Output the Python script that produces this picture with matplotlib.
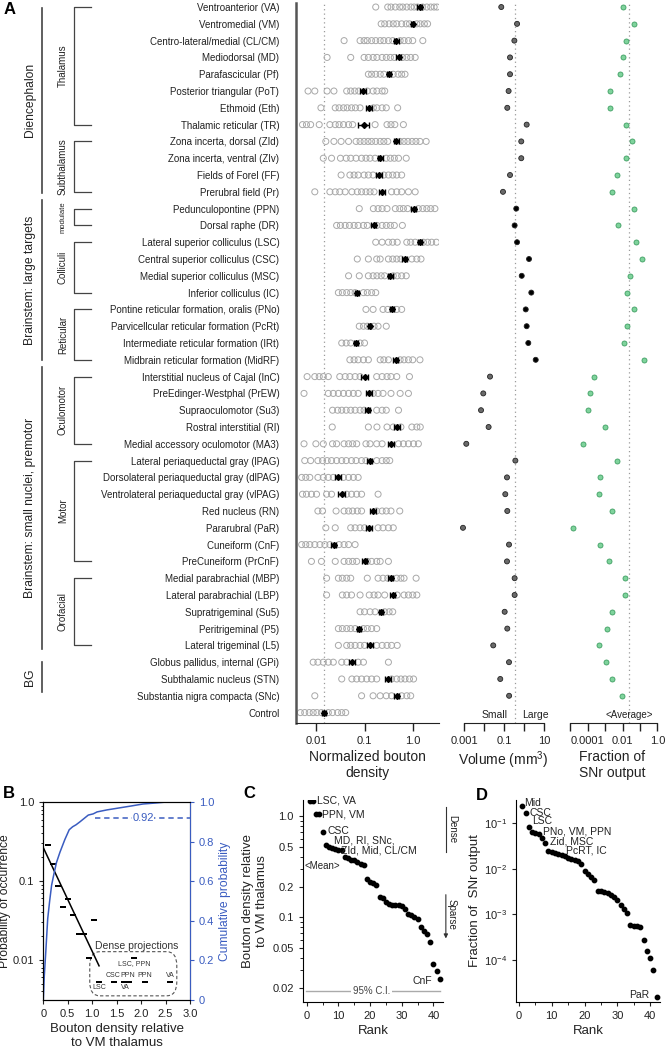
import numpy as np
import matplotlib
matplotlib.use("Agg")
import matplotlib.pyplot as plt
import matplotlib.transforms as mtransforms
from matplotlib.lines import Line2D
from matplotlib.patches import FancyBboxPatch
from matplotlib.ticker import NullLocator, FixedLocator

plt.rcParams['font.family'] = ['Liberation Sans', 'DejaVu Sans']
plt.rcParams['mathtext.default'] = 'regular'

# ---------------- data: panel A ----------------
regions = [
    'Ventroanterior (VA)', 'Ventromedial (VM)', 'Centro-lateral/medial (CL/CM)',
    'Mediodorsal (MD)', 'Parafascicular (Pf)', 'Posterior triangular (PoT)',
    'Ethmoid (Eth)', 'Thalamic reticular (TR)', 'Zona incerta, dorsal (ZId)',
    'Zona incerta, ventral (ZIv)', 'Fields of Forel (FF)', 'Prerubral field (Pr)',
    'Pedunculopontine (PPN)', 'Dorsal raphe (DR)', 'Lateral superior colliculus (LSC)',
    'Central superior colliculus (CSC)', 'Medial superior colliculus (MSC)',
    'Inferior colliculus (IC)', 'Pontine reticular formation, oralis (PNo)',
    'Parvicellcular reticular formation (PcRt)', 'Intermediate reticular formation (IRt)',
    'Midbrain reticular formation (MidRF)', 'Interstitial nucleus of Cajal (InC)',
    'PreEdinger-Westphal (PrEW)', 'Supraoculomotor (Su3)', 'Rostral interstitial (RI)',
    'Medial accessory oculomotor (MA3)', 'Lateral periaqueductal gray (lPAG)',
    'Dorsolateral periaqueductal gray (dlPAG)', 'Ventrolateral periaqueductal gray (vlPAG)',
    'Red nucleus (RN)', 'Pararubral (PaR)', 'Cuneiform (CnF)', 'PreCuneiform (PrCnF)',
    'Medial parabrachial (MBP)', 'Lateral parabrachial (LBP)', 'Supratrigeminal (Su5)',
    'Peritrigeminal (P5)', 'Lateral trigeminal (L5)', 'Globus pallidus, internal (GPi)',
    'Subthalamic nucleus (STN)', 'Substantia nigra compacta (SNc)', 'Control',
]

dens_pts = [
    [0.17, 0.30, 0.35, 0.43, 0.53, 0.61, 0.74, 0.90, 1.05, 1.23, 1.57, 1.91, 2.3, 2.7, 3.1],
    [0.22, 0.26, 0.32, 0.39, 0.46, 0.58, 0.72, 0.84, 1.19, 1.40, 1.7, 1.98],
    [0.038, 0.081, 0.098, 0.114, 0.14, 0.17, 0.21, 0.25, 0.31, 0.38, 0.54, 0.65, 0.80, 0.98, 1.58],
    [0.017, 0.052, 0.098, 0.12, 0.15, 0.18, 0.23, 0.28, 0.34, 0.41, 0.61, 0.74, 0.89, 1.10],
    [0.12, 0.14, 0.17, 0.21, 0.25, 0.39, 0.49, 0.58, 0.68],
    [0.0069, 0.0095, 0.017, 0.0235, 0.043, 0.052, 0.063, 0.076, 0.114, 0.15, 0.18, 0.23, 0.26],
    [0.0127, 0.025, 0.030, 0.037, 0.044, 0.054, 0.065, 0.081, 0.152, 0.18, 0.23, 0.28, 0.48],
    [0.0053, 0.0064, 0.0078, 0.0117, 0.0194, 0.025, 0.030, 0.037, 0.047, 0.057, 0.165, 0.29, 0.35, 0.42, 0.63],
    [0.016, 0.0235, 0.033, 0.047, 0.067, 0.081, 0.098, 0.118, 0.14, 0.17, 0.21, 0.25, 0.30, 0.54,
     0.65, 0.78, 0.95, 1.14, 1.38, 1.85],
    [0.0142, 0.021, 0.032, 0.042, 0.052, 0.067, 0.087, 0.107, 0.13, 0.165, 0.28, 0.34, 0.41, 0.50, 0.72],
    [0.033, 0.050, 0.061, 0.074, 0.098, 0.12, 0.15, 0.25, 0.31, 0.38, 0.46, 0.58],
    [0.0095, 0.0194, 0.025, 0.031, 0.040, 0.055, 0.071, 0.087, 0.107, 0.13, 0.157, 0.36, 0.46, 0.58, 0.80, 1.10],
    [0.078, 0.152, 0.19, 0.23, 0.29, 0.43, 0.53, 0.63, 0.77, 1.28, 1.58, 1.91, 2.3, 2.8],
    [0.0267, 0.032, 0.040, 0.049, 0.061, 0.074, 0.095, 0.114, 0.18, 0.23, 0.28, 0.34, 0.41, 0.60],
    [0.17, 0.23, 0.31, 0.38, 0.47, 0.74, 0.89, 1.10, 1.63, 1.98, 2.4, 3.0],
    [0.071, 0.12, 0.178, 0.21, 0.31, 0.38, 0.46, 0.56, 0.94, 1.19, 1.45],
    [0.047, 0.078, 0.12, 0.15, 0.18, 0.22, 0.26, 0.39, 0.47, 0.58, 0.72],
    [0.029, 0.035, 0.043, 0.052, 0.064, 0.095, 0.114, 0.14, 0.17],
    [0.107, 0.15, 0.24, 0.30, 0.46, 0.58],
    [0.078, 0.095, 0.114, 0.157, 0.19, 0.28],
    [0.034, 0.042, 0.052, 0.081, 0.10],
    [0.050, 0.061, 0.074, 0.095, 0.12, 0.21, 0.25, 0.31, 0.54, 0.65, 0.80, 0.98, 1.38],
    [0.0066, 0.0095, 0.0117, 0.0142, 0.018, 0.031, 0.040, 0.050, 0.064, 0.081, 0.178, 0.23, 0.29,
     0.35, 0.46, 0.84],
    [0.0057, 0.018, 0.0228, 0.029, 0.037, 0.047, 0.059, 0.074, 0.152, 0.19, 0.24, 0.35, 0.54, 0.80],
    [0.022, 0.028, 0.034, 0.042, 0.052, 0.064, 0.081, 0.098, 0.178, 0.23, 0.28, 0.50],
    [0.0217, 0.12, 0.18, 0.29, 0.39, 0.56, 0.94, 1.19, 1.40],
    [0.0057, 0.010, 0.0142, 0.022, 0.0267, 0.038, 0.047, 0.057, 0.069, 0.107, 0.13, 0.178, 0.23,
     0.50, 0.63, 0.80, 1.02, 1.28],
    [0.0059, 0.0078, 0.011, 0.0137, 0.017, 0.021, 0.0267, 0.034, 0.042, 0.054, 0.067, 0.087, 0.107,
     0.178, 0.23, 0.28, 0.33],
    [0.0051, 0.0062, 0.0075, 0.011, 0.0142, 0.018, 0.0228, 0.037, 0.047, 0.059, 0.074],
    [0.0053, 0.0064, 0.0081, 0.0103, 0.0166, 0.021, 0.043, 0.054, 0.069, 0.087, 0.19],
    [0.011, 0.0137, 0.026, 0.038, 0.047, 0.057, 0.071, 0.087, 0.178, 0.23, 0.28, 0.35, 0.53],
    [0.016, 0.025, 0.052, 0.064, 0.081, 0.10, 0.19, 0.24, 0.31, 0.39],
    [0.0051, 0.0062, 0.0075, 0.0095, 0.0121, 0.0153, 0.0194, 0.030, 0.038, 0.047, 0.064],
    [0.0081, 0.013, 0.025, 0.038, 0.047, 0.057, 0.069, 0.114, 0.14, 0.178, 0.21, 0.31],
    [0.0166, 0.029, 0.035, 0.043, 0.052, 0.114, 0.19, 0.24, 0.30, 0.46, 0.56, 0.65, 1.15],
    [0.0166, 0.035, 0.043, 0.054, 0.081, 0.125, 0.157, 0.19, 0.26, 0.47, 0.65, 0.80, 0.98, 1.19],
    [0.081, 0.10, 0.13, 0.165, 0.26, 0.32, 0.38],
    [0.029, 0.035, 0.043, 0.052, 0.064, 0.095, 0.114, 0.14, 0.178],
    [0.029, 0.043, 0.052, 0.064, 0.081, 0.10, 0.178, 0.23, 0.29, 0.36, 0.47],
    [0.0088, 0.011, 0.0142, 0.018, 0.0228, 0.034, 0.043, 0.074, 0.095, 0.31],
    [0.034, 0.055, 0.069, 0.087, 0.111, 0.14, 0.178, 0.36, 0.46, 0.56, 0.68, 0.84, 1.02],
    [0.0095, 0.087, 0.15, 0.21, 0.28, 0.36, 0.58, 0.74, 0.89],
    [0.0048, 0.0059, 0.0073, 0.0088, 0.0105, 0.013, 0.018, 0.022, 0.028, 0.034, 0.041],
]

dens_mean = [1.37, 0.99, 0.45, 0.50, 0.32, 0.093, 0.124, 0.099, 0.45, 0.21, 0.20, 0.23,
             1.02, 0.155, 1.37, 0.67, 0.34, 0.071, 0.37, 0.128, 0.067, 0.44,
             0.102, 0.125, 0.116, 0.47, 0.35, 0.13, 0.029, 0.034, 0.15, 0.124, 0.0235, 0.10,
             0.35, 0.38, 0.22, 0.077, 0.13, 0.055, 0.31, 0.46, 0.0149]
dens_sem = [0.15, 0.07, 0.05, 0.06, 0.03, 0.012, 0.016, 0.025, 0.05, 0.025, 0.025, 0.03,
            0.10, 0.017, 0.14, 0.07, 0.04, 0.007, 0.03, 0.01, 0.006, 0.05,
            0.017, 0.02, 0.014, 0.06, 0.05, 0.015, 0.004, 0.006, 0.02, 0.017, 0.003, 0.012,
            0.04, 0.045, 0.02, 0.008, 0.017, 0.008, 0.04, 0.05, 0.0015]

volume = [0.073, 0.45, 0.33, 0.20, 0.20, 0.17, 0.146, 1.36, 0.73, 0.73, 0.20, 0.089,
          0.41, 0.34, 0.45, 1.78, 0.77, 2.32, 1.22, 1.36, 1.64, 3.85,
          0.020, 0.0092, 0.0071, 0.017, 0.0013, 0.37, 0.141, 0.116, 0.146, 0.00089, 0.178,
          0.141, 0.34, 0.34, 0.108, 0.146, 0.029, 0.178, 0.065, 0.18]
vol_split = 0.35

snr_fraction = [0.0107, 0.047, 0.0158, 0.0111, 0.0075, 0.00186, 0.00201, 0.0152, 0.0349,
                0.0165, 0.00467, 0.00242, 0.0454, 0.00575, 0.0615, 0.125, 0.0279, 0.0174,
                0.047, 0.0188, 0.0122, 0.176, 0.000245, 0.000145, 0.000103, 0.00096, 5.5e-5,
                0.00505, 0.000498, 0.000474, 0.0025, 1.48e-5, 0.000498, 0.0017, 0.0139,
                0.0143, 0.0025, 0.00135, 0.000474, 0.00114, 0.00242, 0.0094]
snr_average = 1 / 42

groups = ['Diencephalon', 'Brainstem: large targets', 'Brainstem: small nuclei, premotor', 'BG']
group_top = [0.05, 11.5, 21.4, 39.0]
group_bot = [11.05, 21.0, 38.2, 40.8]
large_rows = range(12, 22)

subgroups = ['Thalamus', 'Subthalamus', 'modulate', 'Colliculi', 'Reticular',
             'Oculomotor', 'Motor', 'Orofacial']
sub_first = [0, 8, 12, 14, 18, 22, 27, 34]
sub_last = [7, 11, 13, 17, 21, 26, 33, 38]

# ---------------- data: panel B ----------------
hist_x = [0.10, 0.19, 0.31, 0.40, 0.51, 0.61, 0.72, 0.83, 0.93, 1.04, 1.14, 1.45, 1.65, 1.76,
          1.86, 2.08, 2.59]
hist_p = [0.286, 0.166, 0.085, 0.047, 0.059, 0.0375, 0.021, 0.021, 0.0107, 0.032, 0.0053,
          0.0053, 0.0053, 0.0053, 0.0107, 0.0053, 0.0053]
fit_x = [0.0, 1.14]
fit_p = [0.264, 0.0084]
cum_x = [0, 0.02, 0.05, 0.09, 0.13, 0.17, 0.22, 0.27, 0.34, 0.44, 0.53, 0.60, 0.67, 0.75, 0.85,
         0.92, 1.02, 1.1, 1.3, 1.5, 1.8, 2.04, 2.3, 2.52, 3.0]
cum_y = [0, 0.12, 0.24, 0.41, 0.50, 0.58, 0.64, 0.695, 0.746, 0.81, 0.86, 0.875, 0.885, 0.90,
         0.92, 0.934, 0.94, 0.95, 0.96, 0.968, 0.98, 0.99, 0.995, 1.0, 1.0]
dense_labels = ['LSC', 'CSC', 'PPN', 'VA', 'PPN', 'VA', 'LSC, PPN']
dense_lab_x = [1.14, 1.43, 1.72, 1.67, 2.08, 2.59, 1.87]
dense_lab_y = [0.0044, 0.0064, 0.0064, 0.0044, 0.0064, 0.0064, 0.0090]

# ---------------- data: panel C ----------------
c_rank = np.arange(1, 43)
c_density = [1.42, 1.42, 1.05, 1.05, 0.70, 0.524, 0.50, 0.485, 0.474, 0.467, 0.463,
             0.398, 0.385, 0.374, 0.368, 0.357, 0.341, 0.328, 0.242, 0.226, 0.220, 0.210,
             0.158, 0.156, 0.141, 0.136, 0.134, 0.134, 0.132, 0.129, 0.122, 0.108, 0.106,
             0.102, 0.097, 0.080, 0.074, 0.069, 0.057, 0.035, 0.0296, 0.0245]
c_ci = 0.0188

# ---------------- data: panel D ----------------
d_rank = np.arange(1, 43)
d_fraction = [0.24, 0.163, 0.083, 0.063, 0.062, 0.057, 0.046, 0.036, 0.0247, 0.0232, 0.0217,
              0.0207, 0.0196, 0.0187, 0.0174, 0.0163, 0.0155, 0.0145, 0.0125, 0.0090, 0.0075,
              0.0065, 0.0057, 0.00325, 0.0032, 0.0031, 0.0029, 0.0026, 0.0024, 0.0021, 0.0016,
              0.00132, 0.00107, 0.00058, 0.00057, 0.00056, 0.00054, 0.00028, 0.000158,
              0.000113, 6.1e-5, 1.56e-5]

W, H = 665, 1050
fig = plt.figure(figsize=(W / 100, H / 100), dpi=100)


def px_axes(x0, y0, x1, y1):
    return fig.add_axes([x0 / W, 1 - y1 / H, (x1 - x0) / W, (y1 - y0) / H])


dot_ls = (0, (1, 2.5))
grey_dot = '#9a9a9a'
ink = '#222222'
rows = np.arange(len(regions))
n_reg = len(volume)
ylim_rows = (42.62, -0.24)

# ---- A: density ----
ax = px_axes(296, 3, 439, 723)
for i, pts in enumerate(dens_pts):
    ax.scatter(pts, np.full(len(pts), i), s=19, facecolors='none', edgecolors='#a8a8a8',
               linewidths=0.7, zorder=2)
ax.errorbar(dens_mean, rows, xerr=dens_sem, fmt='D', color='k', ms=3, capsize=2.2,
            elinewidth=1.0, capthick=1.0, zorder=4)
ax.axvline(dens_mean[-1], color=grey_dot, ls=dot_ls, lw=0.9, zorder=1)
ax.set_xscale('log')
ax.set_xlim(0.0039, 3.4)
ax.set_ylim(*ylim_rows)
ax.set_yticks(rows)
ax.set_yticklabels(regions, fontsize=7, color=ink)
ax.tick_params(axis='y', length=0, pad=12)
ax.xaxis.set_major_locator(FixedLocator([0.01, 0.1, 1.0]))
ax.xaxis.set_minor_locator(NullLocator())
ax.set_xticklabels(['0.01', '0.1', '1.0'])
ax.tick_params(axis='x', length=6, width=1, labelsize=8, colors=ink, pad=3)
for s in ['top', 'right']:
    ax.spines[s].set_visible(False)
ax.spines['left'].set_linewidth(1.8)
ax.spines['left'].set_color('#555555')
ax.spines['bottom'].set_color(ink)
ax.set_xlabel('Normalized bouton\ndensity', fontsize=10, color=ink, labelpad=3)
fig.text(4 / W, 1 - 2 / H, 'A', fontsize=12, fontweight='bold', va='top', ha='left')

# group / subgroup brackets on the left
trans = mtransforms.blended_transform_factory(fig.transFigure, ax.transData)
for name, t, b in zip(groups, group_top, group_bot):
    fig.add_artist(Line2D([42 / W, 42 / W], [t, b], transform=trans, color='#444444', lw=1.2))
    fig.text(30 / W, (t + b) / 2, name, transform=trans, rotation=90, ha='center',
             va='center', fontsize=8.7, color=ink)
for name, r0, r1 in zip(subgroups, sub_first, sub_last):
    fig.add_artist(Line2D([91 / W, 74 / W, 74 / W, 91 / W], [r0, r0, r1, r1], transform=trans,
                          color='#444444', lw=0.9))
    fig.text(63 / W, (r0 + r1) / 2, name, transform=trans, rotation=90, ha='center',
             va='center', fontsize=5.5 if name == 'modulate' else 7, color=ink)

# ---- A: volume ----
axv = px_axes(455, 3, 552, 723)
vol_colors = ['k' if i in large_rows else '#6a6a6a' for i in range(n_reg)]
axv.scatter(volume, rows[:n_reg], s=13, c=vol_colors, edgecolors='#222222', linewidths=0.6,
            zorder=3)
axv.axvline(vol_split, color=grey_dot, ls=dot_ls, lw=0.9, zorder=1)
axv.set_xscale('log')
axv.set_xlim(10 ** -3.45, 10 ** 1.4)
axv.set_ylim(*ylim_rows)
axv.set_yticks([])
axv.xaxis.set_major_locator(FixedLocator([1e-3, 1e-2, 1e-1, 1, 10]))
axv.xaxis.set_minor_locator(NullLocator())
axv.set_xticklabels(['0.001', '', '0.1', '', '10'])
axv.tick_params(axis='x', length=6, width=1, labelsize=8, colors=ink, pad=3)
for s in ['top', 'right', 'left']:
    axv.spines[s].set_visible(False)
axv.spines['bottom'].set_bounds(1e-3, 10)
axv.spines['bottom'].set_color(ink)
axv.set_xlabel('Volume (mm$^3$)', fontsize=10, color=ink, labelpad=3)
axv.annotate('Small', (vol_split, 42.15), xytext=(-5, 0), textcoords='offset points',
             ha='right', va='center', fontsize=7.5, color=ink)
axv.annotate('Large', (vol_split, 42.15), xytext=(5, 0), textcoords='offset points',
             ha='left', va='center', fontsize=7.5, color=ink)

# ---- A: fraction of SNr output ----
axf = px_axes(565, 3, 660, 723)
axf.scatter(snr_fraction, rows[:n_reg], s=13, c='#7fd39c', edgecolors='#3f9f63',
            linewidths=0.6, zorder=3)
axf.axvline(snr_average, color=grey_dot, ls=dot_ls, lw=0.9, zorder=1)
axf.set_xscale('log')
axf.set_xlim(10 ** -5.29, 10 ** 0.143)
axf.set_ylim(*ylim_rows)
axf.set_yticks([])
axf.xaxis.set_major_locator(FixedLocator([1e-5, 1e-4, 1e-3, 1e-2, 1e-1, 1]))
axf.xaxis.set_minor_locator(NullLocator())
axf.set_xticklabels(['', '0.0001', '', '0.01', '', '1.0'])
axf.tick_params(axis='x', length=6, width=1, labelsize=8, colors=ink, pad=3)
for s in ['top', 'right', 'left']:
    axf.spines[s].set_visible(False)
axf.spines['bottom'].set_bounds(1e-5, 1)
axf.spines['bottom'].set_color(ink)
axf.set_xlabel('Fraction of\nSNr output', fontsize=10, color=ink, labelpad=3)
axf.text(snr_average, 42.15, '<Average>', ha='center', va='center', fontsize=7, color=ink)

# ---- B ----
blue = '#3a5cc0'
axb = px_axes(43.3, 802, 190, 1000)
axb.set_yscale('log')
axb.set_ylim(0.0031, 1.0)
axb.set_xlim(0, 3.0)
rect = [(-1, -0.38), (1, -0.38), (1, 0.38), (-1, 0.38), (-1, -0.38)]
axb.scatter(hist_x, hist_p, marker=rect, s=24, c='k', linewidths=0, zorder=4)
axb.plot(fit_x, fit_p, color='k', lw=1.1, zorder=3)
for lab, x, y in zip(dense_labels, dense_lab_x, dense_lab_y):
    axb.text(x, y, lab, ha='center', va='center', fontsize=5, color='#333333')
to_ax = axb.transData + axb.transAxes.inverted()
bx0, by0 = to_ax.transform((0.95, 0.0035))
bx1, by1 = to_ax.transform((2.73, 0.0127))
axb.add_patch(FancyBboxPatch((bx0, by0), bx1 - bx0, by1 - by0,
                             boxstyle='round,pad=0,rounding_size=0.07',
                             transform=axb.transAxes, fill=False, ls=(0, (3, 2)),
                             ec='#555555', lw=0.8))
axb.text(1.91, 0.0152, 'Dense projections', ha='center', va='center', fontsize=7.5,
         color='#333333')
axb.set_yticks([0.01, 0.1, 1.0])
axb.set_yticklabels(['0.01', '0.1', '1.0'])
axb.set_xticks([0, 0.5, 1.0, 1.5, 2.0, 2.5, 3.0])
axb.set_xticklabels(['0', '0.5', '1.0', '1.5', '2.0', '2.5', '3.0'])
axb.tick_params(labelsize=8, colors=ink, length=3)
axb.tick_params(which='minor', length=1.8)
axb.set_ylabel('Probability of occurrence', fontsize=8.7, color=ink, labelpad=1)
axb.set_xlabel('Bouton density relative\nto VM thalamus', fontsize=9.5, color=ink,
               labelpad=3)
axb2 = axb.twinx()
axb2.plot(cum_x, cum_y, color=blue, lw=1.1)
axb2.plot([1.05, 3.0], [0.92, 0.92], color=blue, lw=1.1, ls=(0, (3.5, 2.5)))
axb2.text(2.04, 0.92, '0.92', ha='center', va='center', fontsize=8, color=blue,
          bbox=dict(facecolor='white', edgecolor='none', pad=0.5))
axb2.set_ylim(0, 1.0)
axb2.set_xlim(0, 3.0)
axb2.set_yticks([0, 0.2, 0.4, 0.6, 0.8, 1.0])
axb2.set_yticklabels(['0', '0.2', '0.4', '0.6', '0.8', '1.0'])
axb2.tick_params(labelsize=8, colors=blue, length=3)
axb2.spines['right'].set_color(blue)
axb2.set_ylabel('Cumulative probability', fontsize=8.7, color=blue, labelpad=3)
fig.text(9 / W, 1 - 794 / H, 'B', fontsize=12, fontweight='bold', va='center', ha='center')

# ---- C ----
axc = px_axes(302.7, 800, 443, 1001.7)
axc.scatter(c_rank, c_density, s=10, c='k', zorder=3)
axc.set_yscale('log')
axc.set_ylim(0.0147, 1.45)
axc.set_xlim(-1.26, 43)
axc.axhline(c_ci, xmin=0.022, xmax=0.98, color='#aaaaaa', lw=1)
axc.text(20.5, c_ci, '95% C.I.', ha='center', va='center', fontsize=7, color='#444444',
         bbox=dict(facecolor='white', edgecolor='none', pad=1.5))
axc.text(3.3, 1.42, 'LSC, VA', ha='left', va='center', fontsize=7.5, color=ink)
axc.text(4.8, 1.05, 'PPN, VM', ha='left', va='center', fontsize=7.5, color=ink)
axc.text(6.6, 0.72, 'CSC', ha='left', va='center', fontsize=7.5, color=ink)
axc.text(8.6, 0.575, 'MD, RI, SNc,', ha='left', va='center', fontsize=7.5, color=ink)
axc.text(10.8, 0.455, 'ZId, Mid, CL/CM', ha='left', va='center', fontsize=7.5, color=ink)
axc.text(4.8, 0.32, '<Mean>', ha='center', va='center', fontsize=7, color=ink)
axc.text(39.5, 0.0237, 'CnF', ha='right', va='center', fontsize=7.5, color=ink)
axc.plot([43.9, 43.9], [1.23, 0.44], color='#333333', lw=0.8, clip_on=False)
axc.text(45.8, 0.74, 'Dense', rotation=-90, ha='center', va='center', fontsize=7,
         color=ink, clip_on=False)
axc.annotate('', xy=(43.9, 0.062), xytext=(43.9, 0.168), annotation_clip=False,
             arrowprops=dict(arrowstyle='-|>', lw=0.8, color='#333333',
                             mutation_scale=6, shrinkA=0, shrinkB=0))
axc.text(45.8, 0.107, 'Sparse', rotation=-90, ha='center', va='center', fontsize=7,
         color=ink, clip_on=False)
axc.set_yticks([0.02, 0.05, 0.1, 0.2, 0.5, 1.0])
axc.set_yticklabels(['0.02', '0.05', '0.1', '0.2', '0.5', '1.0'])
axc.set_xticks([0, 10, 20, 30, 40])
axc.set_xticks([5, 15, 25, 35], minor=True)
axc.tick_params(labelsize=8, colors=ink, length=3)
axc.tick_params(which='minor', length=2)
for s in ['top', 'right']:
    axc.spines[s].set_visible(False)
axc.set_ylabel('Bouton density relative\nto VM thalamus', fontsize=9.5, color=ink,
               labelpad=3)
axc.set_xlabel('Rank', fontsize=9.5, color=ink, labelpad=3)
fig.text(249 / W, 1 - 794 / H, 'C', fontsize=12, fontweight='bold', va='center', ha='center')

# ---- D ----
axd = px_axes(516, 800, 660, 1001.7)
axd.scatter(d_rank, d_fraction, s=10, c='k', zorder=3)
axd.set_yscale('log')
axd.set_ylim(1.23e-5, 0.32)
axd.set_xlim(-0.91, 43)
axd.text(1.6, 0.28, 'Mid', ha='left', va='center', fontsize=7.5, color=ink)
axd.text(3.2, 0.168, 'CSC', ha='left', va='center', fontsize=7.5, color=ink)
axd.text(3.9, 0.11, 'LSC', ha='left', va='center', fontsize=7.5, color=ink)
axd.text(7.4, 0.067, 'PNo, VM, PPN', ha='left', va='center', fontsize=7.5, color=ink)
axd.text(9.5, 0.040, 'Zid, MSC', ha='left', va='center', fontsize=7.5, color=ink)
axd.text(14.3, 0.0245, 'PcRT, IC', ha='left', va='center', fontsize=7.5, color=ink)
axd.text(39.6, 1.74e-5, 'PaR', ha='right', va='center', fontsize=7.5, color=ink)
axd.set_yticks([1e-4, 1e-3, 1e-2, 1e-1])
axd.set_xticks([0, 10, 20, 30, 40])
axd.set_xticks([5, 15, 25, 35], minor=True)
axd.yaxis.set_minor_locator(NullLocator())
axd.tick_params(labelsize=8, colors=ink, length=3)
axd.tick_params(which='minor', length=2)
for s in ['top', 'right']:
    axd.spines[s].set_visible(False)
axd.set_ylabel('Fraction of  SNr output', fontsize=9.5, color=ink, labelpad=2)
axd.set_xlabel('Rank', fontsize=9.5, color=ink, labelpad=3)
fig.text(482 / W, 1 - 795 / H, 'D', fontsize=12, fontweight='bold', va='center', ha='center')

fig.savefig('out.png', dpi=100)
